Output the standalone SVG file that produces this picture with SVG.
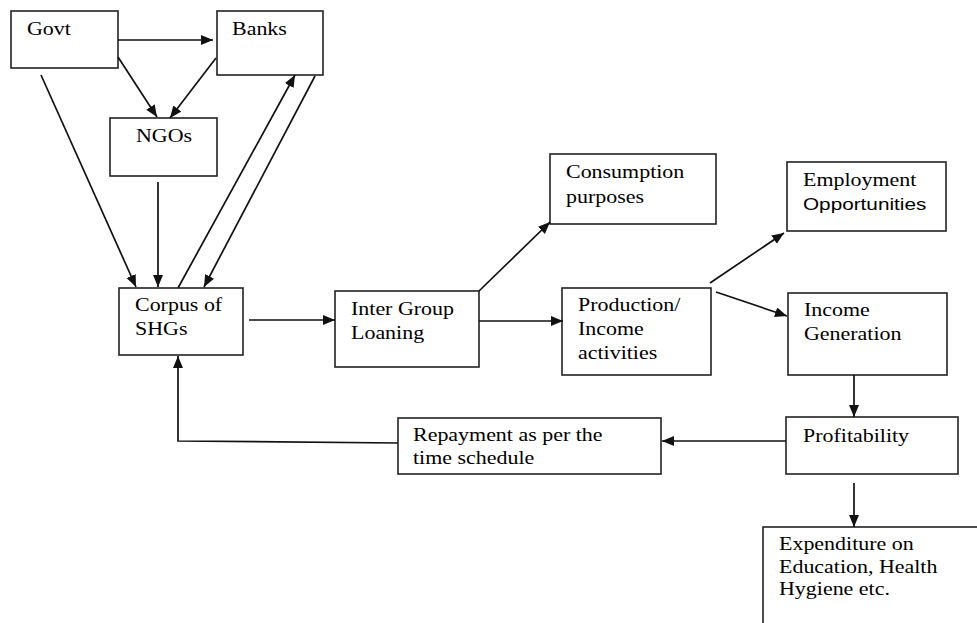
<svg xmlns="http://www.w3.org/2000/svg" width="977" height="623" viewBox="0 0 977 623">
<style>
  rect.box { fill: #fff; stroke: #222; stroke-width: 1.6; }
  .c line, .c polyline { stroke: #111; stroke-width: 1.7; fill: none; }
  text.t { font-family: "Liberation Serif", "Times New Roman", serif; font-size: 18px; fill: #000; }
  tspan.s { font-family: "Liberation Sans", Arial, sans-serif; font-size: 17px; }
</style>
<defs>
  <marker id="ah" markerUnits="userSpaceOnUse" markerWidth="13" markerHeight="11" refX="12" refY="5" orient="auto">
    <path d="M0,0 L12,5 L0,10 z" fill="#111"/>
  </marker>
</defs>
<rect width="977" height="623" fill="#fff"/>

<g id="govt"><rect class="box" x="11" y="11" width="107" height="57"/>
  <text class="t" transform="translate(27 35) scale(1.22 1)">Govt</text></g>
<g id="banks"><rect class="box" x="217" y="11" width="106" height="64"/>
  <text class="t" transform="translate(232 35) scale(1.22 1)">Banks</text></g>
<g id="ngos"><rect class="box" x="110" y="118" width="107" height="58"/>
  <text class="t" transform="translate(136 142) scale(1.22 1)">NGOs</text></g>
<g id="corpus"><rect class="box" x="119" y="288" width="124" height="67"/>
  <text class="t" transform="translate(135 311) scale(1.22 1)"><tspan x="0" y="0">Corpus of</tspan><tspan x="0" y="24">SHGs</tspan></text></g>
<g id="inter"><rect class="box" x="335" y="291" width="144" height="76"/>
  <text class="t" transform="translate(351 315) scale(1.22 1)"><tspan x="0" y="0">Inter Group</tspan><tspan x="0" y="24">Loaning</tspan></text></g>
<g id="consumption"><rect class="box" x="550" y="154" width="166" height="70"/>
  <text class="t" transform="translate(566 178) scale(1.22 1)"><tspan x="0" y="0">Consumption</tspan><tspan x="0" y="25">purposes</tspan></text></g>
<g id="employment"><rect class="box" x="787" y="162" width="159" height="69"/>
  <text class="t" transform="translate(803 186) scale(1.22 1)"><tspan x="0" y="0">Employment</tspan><tspan class="s" x="0" y="24">Opportunities</tspan></text></g>
<g id="production"><rect class="box" x="562" y="288" width="149" height="87"/>
  <text class="t" transform="translate(578 311) scale(1.22 1)"><tspan x="0" y="0">Production/</tspan><tspan x="0" y="24">Income</tspan><tspan x="0" y="48">activities</tspan></text></g>
<g id="income"><rect class="box" x="788" y="293" width="159" height="82"/>
  <text class="t" transform="translate(804 316) scale(1.22 1)"><tspan x="0" y="0">Income</tspan><tspan x="0" y="24">Generation</tspan></text></g>
<g id="profitability"><rect class="box" x="786" y="417" width="172" height="57"/>
  <text class="t" transform="translate(803 442) scale(1.22 1)">Profitability</text></g>
<g id="repayment"><rect class="box" x="398" y="418" width="263" height="56"/>
  <text class="t" transform="translate(413 441) scale(1.22 1)"><tspan x="0" y="0">Repayment as per the</tspan><tspan x="0" y="23">time schedule</tspan></text></g>
<g id="expenditure"><rect class="box" x="763" y="527" width="230" height="120"/>
  <text class="t" transform="translate(779 550) scale(1.22 1)"><tspan x="0" y="0">Expenditure on</tspan><tspan x="0" y="23">Education, Health</tspan><tspan x="0" y="45">Hygiene etc.</tspan></text></g>

<g id="connectors" class="c">
  <line x1="118" y1="40" x2="213" y2="40" marker-end="url(#ah)"/>
  <line x1="118" y1="57" x2="157" y2="117" marker-end="url(#ah)"/>
  <line x1="216" y1="58" x2="170" y2="118" marker-end="url(#ah)"/>
  <line x1="41" y1="75" x2="136" y2="287" marker-end="url(#ah)"/>
  <line x1="158" y1="182" x2="158" y2="287" marker-end="url(#ah)"/>
  <line x1="178" y1="288" x2="295" y2="75" marker-end="url(#ah)"/>
  <line x1="315" y1="76" x2="204" y2="287" marker-end="url(#ah)"/>
  <line x1="249" y1="320" x2="335" y2="320" marker-end="url(#ah)"/>
  <line x1="479" y1="291" x2="550" y2="222" marker-end="url(#ah)"/>
  <line x1="479" y1="321" x2="563" y2="321" marker-end="url(#ah)"/>
  <line x1="710" y1="283" x2="784" y2="233" marker-end="url(#ah)"/>
  <line x1="716" y1="292" x2="787" y2="316" marker-end="url(#ah)"/>
  <line x1="854" y1="375" x2="854" y2="417" marker-end="url(#ah)"/>
  <line x1="786" y1="441" x2="662" y2="441" marker-end="url(#ah)"/>
  <line x1="854" y1="483" x2="854" y2="527" marker-end="url(#ah)"/>
  <polyline points="398,443 178,441 178,356" marker-end="url(#ah)"/>
</g>
</svg>
